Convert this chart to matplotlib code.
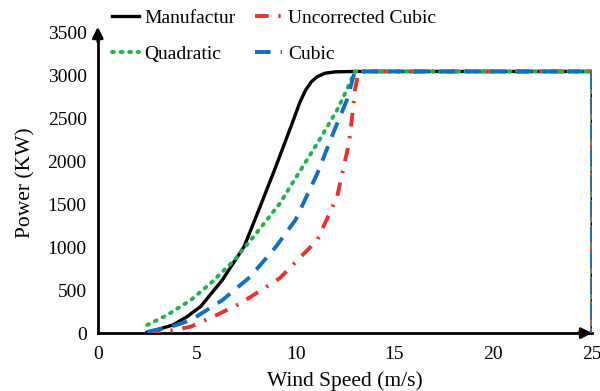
import matplotlib.pyplot as plt

# wind speed (m/s) and power (kW)
x_manu = [2.5, 3.0, 3.8, 4.5, 5.2, 6.3, 7.4, 8.2, 9.0, 9.9, 10.2, 10.5, 10.8, 11.1, 11.5, 12.0, 13.0, 25.0, 25.0]
y_manu = [10, 40, 95, 190, 310, 620, 1010, 1470, 1940, 2490, 2680, 2830, 2930, 2990, 3030, 3045, 3050, 3050, 0]

x_quad = [2.5, 3.5, 4.7, 5.7, 6.9, 8.0, 9.2, 10.2, 11.2, 12.1, 12.6, 13.0, 25.0, 25.0]
y_quad = [95, 210, 385, 580, 850, 1160, 1510, 1880, 2250, 2600, 2840, 3050, 3050, 0]

x_cub = [2.5, 3.7, 4.7, 6.3, 7.7, 9.0, 10.0, 11.1, 11.9, 12.6, 13.0, 25.0, 25.0]
y_cub = [15, 75, 150, 385, 655, 1005, 1320, 1860, 2330, 2720, 3050, 3050, 0]

x_unc = [2.5, 3.7, 4.7, 6.0, 7.2, 9.2, 11.1, 12.1, 12.7, 12.9, 13.0, 13.2, 25.0, 25.0]
y_unc = [0, 30, 75, 210, 345, 640, 1085, 1590, 2210, 2600, 2835, 3050, 3050, 0]

plt.rcParams['font.family'] = 'Liberation Serif'

fig = plt.figure(figsize=(6, 3.91), dpi=100)
ax = fig.add_axes([0.163, 0.148, 0.824, 0.768])

ax.plot(x_manu, y_manu, color='black', lw=2.4, label='Manufactur', zorder=2)
ax.plot(x_unc, y_unc, color='#e8322f', lw=2.8, dashes=(3.5, 2.5, 0.6, 2.5),
        label='Uncorrected Cubic', zorder=3)
ax.plot(x_quad, y_quad, color='#22b14c', lw=2.8, dashes=(0.5, 1.7),
        dash_capstyle='round', label='Quadratic', zorder=4)
ax.plot(x_cub, y_cub, color='#1070c0', lw=2.8, dashes=(4, 2.6),
        label='Cubic', zorder=5)

ax.set_xlim(0, 25)
ax.set_ylim(0, 3500)
ax.set_xticks(range(0, 26, 5))
ax.set_yticks(range(0, 3501, 500))
ax.tick_params(length=0, labelsize=14)
ax.tick_params(axis='y', pad=8)
ax.tick_params(axis='x', pad=9)

for s in ['top', 'right']:
    ax.spines[s].set_visible(False)
for s in ['left', 'bottom']:
    ax.spines[s].set_linewidth(2)

# arrow heads on the axes
ax.annotate('', xy=(1.0, 0), xytext=(0.97, 0), xycoords='axes fraction',
            arrowprops=dict(arrowstyle='-|>', lw=2, color='black', mutation_scale=16,
                            shrinkA=0, shrinkB=0), annotation_clip=False)
ax.annotate('', xy=(0, 1.02), xytext=(0, 0.97), xycoords='axes fraction',
            arrowprops=dict(arrowstyle='-|>', lw=2, color='black', mutation_scale=16,
                            shrinkA=0, shrinkB=0), annotation_clip=False)

ax.set_xlabel('Wind Speed (m/s)', fontsize=15.5, labelpad=6)
ax.set_ylabel('Power (KW)', fontsize=15.5, labelpad=9)

handles, labels = ax.get_legend_handles_labels()
order = [0, 2, 1, 3]
ax.legend([handles[i] for i in order], [labels[i] for i in order],
          ncol=2, frameon=False, fontsize=14, loc='upper left',
          bbox_to_anchor=(0.012, 1.105), handlelength=1.4, handletextpad=0.3,
          columnspacing=1.0, labelspacing=0.95, borderaxespad=0)

fig.savefig('out.png', dpi=100)
